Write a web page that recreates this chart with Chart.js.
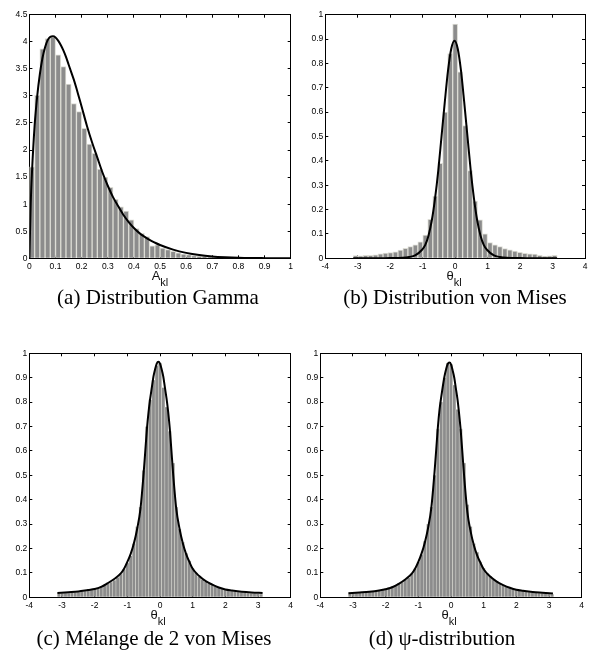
<!DOCTYPE html>
<html>
<head>
<meta charset="utf-8">
<script src="https://cdn.jsdelivr.net/npm/chart.js@4.4.1/dist/chart.umd.min.js"></script>
<style>
  body { margin: 0; background: #fff; width: 593px; height: 652px; position: relative; overflow: hidden; }
  canvas { position: absolute; }
  .axlab { position: absolute; font-family: 'Liberation Sans', Arial, sans-serif; font-size: 13px; line-height: 13px; color: #111; white-space: nowrap; transform: translateX(-50%); }
  .axlab span { font-size: 11px; position: relative; top: 6px; }
  .cap { position: absolute; font-family: 'Liberation Serif', 'Times New Roman', serif; font-size: 21px; line-height: 21px; color: #000; white-space: nowrap; transform: translateX(-50%); }
</style>
</head>
<body>

<canvas id="chartA" width="298" height="276" style="left:0px;top:0px"></canvas>
<canvas id="chartB" width="297" height="276" style="left:296px;top:0px"></canvas>
<canvas id="chartC" width="298" height="276" style="left:0px;top:336px"></canvas>
<canvas id="chartD" width="297" height="276" style="left:296px;top:336px"></canvas>

<div class="axlab" style="left:160px;top:269px">A<span>kl</span></div>
<div class="axlab" style="left:454px;top:269px">θ<span>kl</span></div>
<div class="axlab" style="left:158px;top:608px">θ<span>kl</span></div>
<div class="axlab" style="left:449px;top:608px">θ<span>kl</span></div>

<div class="cap" style="left:158px;top:287px">(a) Distribution Gamma</div>
<div class="cap" style="left:455px;top:287px">(b) Distribution von Mises</div>
<div class="cap" style="left:154px;top:628px">(c) Mélange de 2 von Mises</div>
<div class="cap" style="left:442px;top:628px">(d) ψ-distribution</div>

<script>
// ── (a) Gamma: 40 bins of 0.02 on [0, 0.8] ──
const gammaRange = [0, 0.8];
const gammaCounts = [1.69, 3.01, 3.87, 4.06, 4.08, 3.76, 3.54, 3.22, 2.86, 2.71,
                     2.40, 2.11, 1.94, 1.65, 1.50, 1.31, 1.09, 0.95, 0.87, 0.71,
                     0.55, 0.46, 0.40, 0.23, 0.25, 0.19, 0.16, 0.13, 0.10, 0.08,
                     0.07, 0.05, 0.04, 0.035, 0.03, 0.02, 0.02, 0.015, 0.008, 0.005];
const gammaCurveX = [0, 0.005, 0.01, 0.02, 0.03, 0.04, 0.05, 0.06, 0.07, 0.08, 0.09, 0.10,
                     0.11, 0.12, 0.13, 0.14, 0.15, 0.16, 0.17, 0.18, 0.19, 0.20, 0.22, 0.24,
                     0.26, 0.28, 0.30, 0.32, 0.34, 0.36, 0.38, 0.40, 0.42, 0.44, 0.46, 0.48,
                     0.50, 0.55, 0.60, 0.65, 0.70, 0.75, 0.80, 0.85, 0.90, 1.0];
const gammaCurveY = [0, 1.0, 1.6, 2.45, 3.0, 3.4, 3.7, 3.9, 4.03, 4.09, 4.1, 4.08,
                     4.02, 3.94, 3.84, 3.72, 3.58, 3.44, 3.3, 3.14, 2.97, 2.8, 2.45, 2.14,
                     1.86, 1.58, 1.34, 1.13, 0.96, 0.8, 0.67, 0.56, 0.47, 0.4, 0.34, 0.29,
                     0.245, 0.16, 0.1, 0.06, 0.035, 0.02, 0.01, 0.005, 0.003, 0.001];

// ── (b) von Mises: 41 bins on [-pi, pi] ──
const vmRange = [-Math.PI, Math.PI];
const vmCounts = [0.011, 0.010, 0.012, 0.012, 0.014, 0.018, 0.021, 0.023, 0.027, 0.034,
                  0.041, 0.048, 0.055, 0.068, 0.095, 0.16, 0.255, 0.39, 0.60, 0.84,
                  0.962,
                  0.765, 0.545, 0.36, 0.235, 0.158, 0.10, 0.065, 0.055, 0.048, 0.040,
                  0.035, 0.030, 0.025, 0.020, 0.018, 0.017, 0.012, 0.008, 0.010, 0.012];
const vmCurveX = [-3.14, -2.5, -2.0, -1.62, -1.42, -1.22, -1.02, -0.92, -0.82, -0.72, -0.62,
                  -0.52, -0.42, -0.32, -0.22, -0.12, -0.02, 0.08, 0.18, 0.28, 0.38, 0.48,
                  0.58, 0.68, 0.78, 0.88, 0.98, 1.18, 1.38, 1.58, 2.0, 2.5, 3.14];
const vmCurveY = [0, 0, 0.001, 0.002, 0.005, 0.013, 0.035, 0.055, 0.094, 0.155, 0.245,
                  0.36, 0.5, 0.64, 0.77, 0.86, 0.893, 0.86, 0.77, 0.64, 0.5, 0.36,
                  0.245, 0.155, 0.094, 0.055, 0.035, 0.013, 0.005, 0.002, 0.001, 0, 0];

// ── (c) mixture of 2 von Mises: 63 bins on [-pi, pi] ──
const mixRange = [-Math.PI, Math.PI];
const mixCounts = [0.015, 0.016, 0.017, 0.018, 0.02, 0.021, 0.022, 0.025, 0.026, 0.028,
                   0.031, 0.035, 0.04, 0.046, 0.05, 0.055, 0.063, 0.07, 0.082, 0.095,
                   0.115, 0.14, 0.17, 0.22, 0.29, 0.37, 0.52, 0.70, 0.81, 0.89, 0.95,
                   0.96,
                   0.86, 0.78, 0.68, 0.55, 0.37, 0.28, 0.225, 0.18, 0.15, 0.12,
                   0.10, 0.085, 0.073, 0.064, 0.056, 0.052, 0.045, 0.04, 0.035, 0.032,
                   0.029, 0.026, 0.024, 0.022, 0.021, 0.019, 0.018, 0.016, 0.015, 0.014, 0.013];
const mixCurveX = [-3.14, -2.8, -2.5, -2.2, -2.0, -1.8, -1.6, -1.4, -1.2, -1.1, -1.0, -0.9,
                   -0.8, -0.7, -0.6, -0.5, -0.45, -0.4, -0.35, -0.3, -0.25, -0.2, -0.15, -0.1,
                   -0.05, 0, 0.05, 0.1, 0.15, 0.2, 0.25, 0.3, 0.35, 0.4, 0.5, 0.6, 0.7, 0.8,
                   0.9, 1.0, 1.2, 1.4, 1.6, 1.8, 2.0, 2.2, 2.5, 2.8, 3.14];
const mixCurveY = [0.018, 0.021, 0.024, 0.030, 0.034, 0.043, 0.058, 0.075, 0.098, 0.117, 0.145, 0.177,
                   0.22, 0.28, 0.36, 0.51, 0.60, 0.69, 0.76, 0.815, 0.86, 0.905, 0.935, 0.958,
                   0.965, 0.958, 0.935, 0.905, 0.86, 0.815, 0.76, 0.69, 0.60, 0.51, 0.36, 0.28, 0.22, 0.177,
                   0.145, 0.117, 0.087, 0.066, 0.052, 0.040, 0.032, 0.028, 0.023, 0.020, 0.018];

// ── (d) psi-distribution: 63 bins on [-pi, pi] ──
const psiRange = [-Math.PI, Math.PI];
const psiCounts = [0.014, 0.016, 0.018, 0.019, 0.02, 0.022, 0.023, 0.024, 0.027, 0.029,
                   0.032, 0.036, 0.041, 0.045, 0.05, 0.057, 0.062, 0.072, 0.08, 0.097,
                   0.118, 0.145, 0.175, 0.23, 0.3, 0.37, 0.5, 0.69, 0.8, 0.9, 0.96,
                   0.955,
                   0.87, 0.77, 0.69, 0.55, 0.38, 0.29, 0.22, 0.185, 0.145, 0.12,
                   0.098, 0.086, 0.072, 0.065, 0.055, 0.05, 0.046, 0.039, 0.036, 0.031,
                   0.028, 0.027, 0.023, 0.022, 0.02, 0.019, 0.017, 0.016, 0.015, 0.013, 0.012];
const psiCurveX = [-3.14, -2.8, -2.5, -2.2, -2.0, -1.8, -1.6, -1.4, -1.2, -1.1, -1.0, -0.9,
                   -0.8, -0.7, -0.6, -0.5, -0.45, -0.4, -0.35, -0.3, -0.25, -0.2, -0.15, -0.1,
                   -0.05, 0, 0.05, 0.1, 0.15, 0.2, 0.25, 0.3, 0.35, 0.4, 0.5, 0.6, 0.7, 0.8,
                   0.9, 1.0, 1.2, 1.4, 1.6, 1.8, 2.0, 2.2, 2.5, 2.8, 3.12];
const psiCurveY = [0.017, 0.02, 0.023, 0.028, 0.033, 0.041, 0.055, 0.073, 0.097, 0.117, 0.145, 0.18,
                   0.225, 0.285, 0.37, 0.52, 0.61, 0.70, 0.77, 0.82, 0.865, 0.905, 0.935, 0.956,
                   0.962, 0.955, 0.93, 0.9, 0.855, 0.81, 0.75, 0.68, 0.59, 0.5, 0.35, 0.27, 0.213, 0.172,
                   0.142, 0.115, 0.085, 0.064, 0.05, 0.039, 0.031, 0.027, 0.022, 0.019, 0.016];

/* ── helpers ── */

const tickFont = { family: "'Liberation Sans', Arial, sans-serif", size: 8.5 };

function binCenters(range, n) {
    const w = (range[1] - range[0]) / n;
    return Array.from({ length: n }, (_, i) => range[0] + (i + 0.5) * w);
}

// MATLAB style labels: 0, 0.5, 1 ... (no trailing zeros)
function plainTick(value) {
    return String(Number(value.toFixed(3)));
}

function makeAxis(axis, position, min, max, step, showLabels, fit) {
    return {
        type: 'linear', axis: axis, position: position,
        min: min, max: max, offset: false,
        ticks: {
            display: showLabels, stepSize: step, autoSkip: false, maxRotation: 0,
            color: '#000', font: tickFont, padding: axis === 'x' ? 6 : 5,
            callback: plainTick,
        },
        grid: {
            drawOnChartArea: false, drawTicks: true, tickLength: -3,
            tickColor: '#000', offset: false,
        },
        border: { display: true, color: '#000', width: 1 },
        afterFit: fit,
    };
}

// frame = canvas position on page, box = plot area on page
function drawPanel(id, frame, box, p) {
    const canvas = document.getElementById(id);
    const centers = binCenters(p.range, p.counts.length);

    return new Chart(canvas.getContext('2d'), {
        type: 'bar',
        data: {
            datasets: [{
                type: 'line',
                data: p.curveX.map((x, i) => ({ x: x, y: p.curveY[i] })),
                borderColor: '#000',
                borderWidth: 2,
                pointRadius: 0,
                cubicInterpolationMode: 'monotone',
                order: 0,
            }, {
                type: 'bar',
                data: centers.map((x, i) => ({ x: x, y: p.counts[i] })),
                backgroundColor: '#8c8c8c',
                borderColor: '#dcdcd4',
                borderWidth: p.barBorder,
                categoryPercentage: 1,
                barPercentage: 1,
                order: 1,
            }]
        },
        options: {
            responsive: false,
            animation: false,
            events: [],
            layout: {
                padding: {
                    left: 0,
                    top: box.top - frame.top,
                    right: frame.left + frame.width - box.right,
                    bottom: 0,
                }
            },
            scales: {
                x: makeAxis('x', 'bottom', p.xMin, p.xMax, p.xStep, true, function (s) {
                    s.height = frame.top + frame.height - box.bottom;
                    s.paddingLeft = 0; s.paddingRight = 0;
                }),
                y: makeAxis('y', 'left', 0, p.yMax, p.yStep, true, function (s) {
                    s.width = box.left - frame.left;
                    s.paddingTop = 0; s.paddingBottom = 0;
                }),
                x2: makeAxis('x', 'top', p.xMin, p.xMax, p.xStep, false, function (s) {
                    s.height = 0; s.paddingLeft = 0; s.paddingRight = 0;
                }),
                y2: makeAxis('y', 'right', 0, p.yMax, p.yStep, false, function (s) {
                    s.width = 0; s.paddingTop = 0; s.paddingBottom = 0;
                }),
            },
            plugins: {
                legend: { display: false },
                tooltip: { enabled: false },
            }
        }
    });
}

drawPanel('chartA',
    { left: 0, top: 0, width: 298, height: 276 },
    { left: 29.4, top: 14.7, right: 290.7, bottom: 258.3 },
    { range: gammaRange, counts: gammaCounts, curveX: gammaCurveX, curveY: gammaCurveY,
      xMin: 0, xMax: 1, xStep: 0.1, yMax: 4.5, yStep: 0.5, barBorder: 1 });

drawPanel('chartB',
    { left: 296, top: 0, width: 297, height: 276 },
    { left: 325.3, top: 14.7, right: 585, bottom: 258.3 },
    { range: vmRange, counts: vmCounts, curveX: vmCurveX, curveY: vmCurveY,
      xMin: -4, xMax: 4, xStep: 1, yMax: 1, yStep: 0.1, barBorder: 1 });

drawPanel('chartC',
    { left: 0, top: 336, width: 298, height: 276 },
    { left: 29.3, top: 353.3, right: 290.7, bottom: 597.3 },
    { range: mixRange, counts: mixCounts, curveX: mixCurveX, curveY: mixCurveY,
      xMin: -4, xMax: 4, xStep: 1, yMax: 1, yStep: 0.1, barBorder: 0.55 });

drawPanel('chartD',
    { left: 296, top: 336, width: 297, height: 276 },
    { left: 320.3, top: 353.3, right: 581.7, bottom: 597.3 },
    { range: psiRange, counts: psiCounts, curveX: psiCurveX, curveY: psiCurveY,
      xMin: -4, xMax: 4, xStep: 1, yMax: 1, yStep: 0.1, barBorder: 0.55 });
</script>
</body>
</html>
